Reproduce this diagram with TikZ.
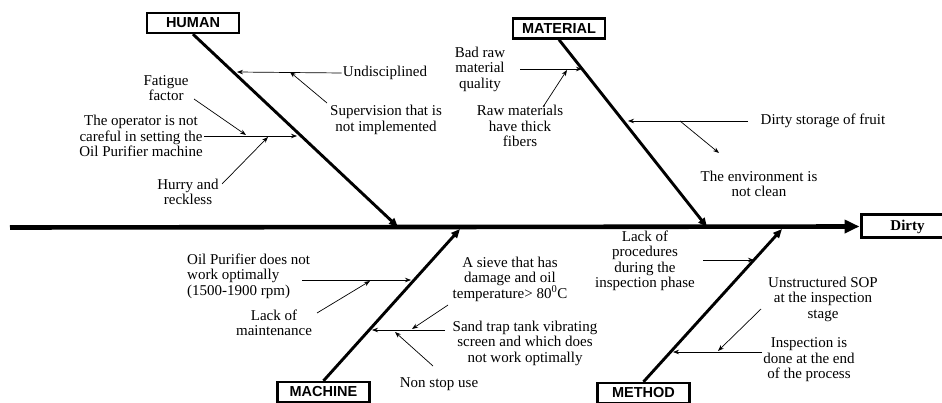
\documentclass[tikz,border=0pt]{standalone}
\usepackage{fontspec}
\setmainfont{Liberation Serif}
\newfontfamily\hdrfont{Liberation Sans}
\usetikzlibrary{arrows.meta}
\begin{document}
\begin{tikzpicture}[x=1pt,y=-1pt,
  txt/.style={align=center,font=\fontsize{15}{15.5}\selectfont,inner sep=1pt},
  hbox/.style={draw,line width=2.4pt,font=\hdrfont\bfseries\fontsize{14.5}{15}\selectfont,minimum width=92pt,minimum height=20pt,inner sep=0pt},
  bone/.style={line width=2.9pt,-{Triangle[length=9pt,width=7.5pt]}},
  cause/.style={line width=0.7pt,-{Stealth[length=6pt,width=4.5pt]}},
  spine/.style={line width=4.6pt,-{Triangle[length=15pt,width=13pt]}}]
\useasboundingbox (0,0) rectangle (942,403);

% effect box and spine
\node[draw,line width=3pt,minimum width=93pt,minimum height=23pt,inner sep=0pt,
      font=\bfseries\fontsize{15}{15}\selectfont] (dirty) at (907.5,226.5) {Dirty};
\coordinate (sp0) at (10,227.5);
\draw[spine] (sp0) -- (dirty.west);

% category boxes
\node[hbox] (human) at (193,23) {HUMAN};
\node[hbox] (material) at (559,28.5) {MATERIAL};
\node[hbox] (machine) at (323.5,392) {MACHINE};
\node[hbox] (method) at (643.5,393) {METHOD};

% bone ends
\coordinate (hend) at (398,227);
\coordinate (mtend) at (707,227);
\coordinate (mcend) at (460,229);
\coordinate (meend) at (782,229);
\draw[bone] (human.south) -- (hend);
\draw[bone] (material.south) -- (mtend);
\draw[bone] (machine.north) -- (mcend);
\draw[bone] (method.north) -- (meend);

% ---------- HUMAN ----------
\node[txt] (und) at (385,73) {Undisciplined};
\coordinate (h1) at (237,72);
\draw[cause] (und.west) -- (h1);
\node[txt] (sup) at (386,120) {Supervision that is\\not implemented};
\coordinate (sup0) at (327,103);
\coordinate (sup1) at (290,72);
\draw[cause] (sup0) -- (sup1);
\node[txt] (op) at (141,136) {The operator is not\\careful in setting the\\Oil Purifier machine};
\coordinate (h2) at (297,136);
\draw[cause] (op.east) -- (h2);
\node[txt] (fat) at (166,88) {Fatigue\\factor};
\coordinate (fat0) at (194,99);
\coordinate (fat1) at (246,135);
\draw[cause] (fat0) -- (fat1);
\node[txt] (hur) at (188,192) {Hurry and\\reckless};
\coordinate (hur0) at (222,184);
\coordinate (hur1) at (268,137);
\draw[cause] (hur0) -- (hur1);

% ---------- MATERIAL ----------
\node[txt] (bad) at (480,69) {Bad raw\\material\\quality};
\coordinate (bad0) at (520,69);
\coordinate (bad1) at (582,69);
\draw[cause] (bad0) -- (bad1);
\node[txt] (raw) at (520,126) {Raw materials\\have thick\\fibers};
\coordinate (raw0) at (543,107);
\coordinate (raw1) at (567,70);
\draw[cause] (raw0) -- (raw1);
\node[txt] (dso) at (823,121) {Dirty storage of fruit};
\coordinate (dso0) at (748,121);
\coordinate (dso1) at (628,121);
\draw[cause] (dso0) -- (dso1);
\node[txt] (env) at (759,184) {The environment is\\not clean};
\coordinate (env0) at (680,121);
\coordinate (env1) at (719,153);
\draw[cause] (env0) -- (env1);

% ---------- MACHINE ----------
\node[txt,align=left,anchor=west] (oil) at (186,276) {Oil Purifier does not\\work optimally\\(1500-1900 rpm)};
\coordinate (oil0) at (302,280);
\coordinate (oil1) at (411,280);
\draw[cause] (oil0) -- (oil1);
\node[txt] (lom) at (274,323) {Lack of\\maintenance};
\coordinate (lom0) at (317,313);
\coordinate (lom1) at (370,281);
\draw[cause] (lom0) -- (lom1);
\node[txt] (sie) at (510,279) {A sieve that has\\damage and oil\\temperature> 80\textsuperscript{0}C};
\coordinate (sie0) at (448,305);
\coordinate (sie1) at (412,329);
\draw[cause] (sie0) -- (sie1);
\node[txt] (snd) at (525,343) {Sand trap tank vibrating\\screen and which does\\not work optimally};
\coordinate (snd0) at (445,330);
\coordinate (snd1) at (372,330);
\draw[cause] (snd0) -- (snd1);
\node[txt] (non) at (439,384) {Non stop use};
\coordinate (non0) at (433,366);
\coordinate (non1) at (395,332);
\draw[cause] (non0) -- (non1);

% ---------- METHOD ----------
\node[txt] (lop) at (645,261) {Lack of\\procedures\\during the\\inspection phase};
\coordinate (lop0) at (703,260);
\coordinate (lop1) at (754,260);
\draw[cause] (lop0) -- (lop1);
\node[txt] (uns) at (823,299) {Unstructured SOP\\at the inspection\\stage};
\coordinate (uns0) at (761,309);
\coordinate (uns1) at (718,351);
\draw[cause] (uns0) -- (uns1);
\node[txt] (ins) at (809,360) {Inspection is\\done at the end\\of the process};
\coordinate (ins0) at (762,352);
\coordinate (ins1) at (673,352);
\draw[cause] (ins0) -- (ins1);
\end{tikzpicture}
\end{document}
